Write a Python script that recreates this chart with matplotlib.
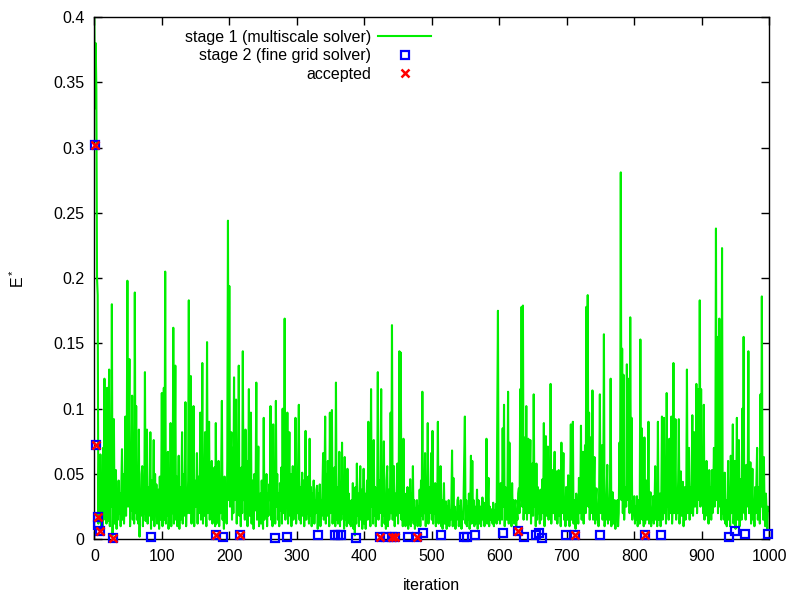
import numpy as np
import matplotlib
matplotlib.use("Agg")
import matplotlib.pyplot as plt

plt.rcParams['font.family'] = ['Liberation Sans', 'DejaVu Sans']
plt.rcParams['mathtext.fontset'] = 'custom'
plt.rcParams['mathtext.rm'] = 'Liberation Sans'
plt.rcParams['mathtext.it'] = 'Liberation Sans'

# stage 1 error values (in thousandths), one per iteration 0..999
stage1_milli = [
    400, 330, 380, 345, 200, 187, 12, 60, 18, 65, 10, 45, 8, 70, 15, 123, 20, 55, 12, 116,
    14, 85, 130, 10, 60, 25, 180, 3, 40, 92, 12, 48, 53, 8, 38, 15, 45, 20, 35, 10,
    42, 69, 15, 50, 12, 35, 94, 18, 60, 198, 25, 70, 138, 10, 45, 22, 110, 15, 40, 12,
    189, 20, 102, 15, 40, 12, 84, 2, 35, 18, 50, 56, 10, 38, 20, 128, 14, 45, 84, 12,
    40, 18, 30, 82, 8, 45, 15, 35, 76, 10, 50, 20, 42, 12, 30, 38, 8, 48, 15, 30,
    112, 10, 40, 116, 15, 205, 12, 50, 18, 67, 8, 35, 14, 89, 10, 45, 20, 162, 12, 55,
    133, 15, 48, 10, 30, 64, 8, 40, 15, 35, 82, 12, 50, 18, 40, 105, 10, 38, 20, 45,
    183, 20, 50, 125, 12, 40, 18, 102, 10, 45, 25, 35, 66, 12, 48, 20, 30, 97, 15, 42,
    135, 12, 40, 18, 82, 25, 10, 151, 20, 50, 90, 15, 45, 22, 60, 12, 38, 20, 55, 10,
    89, 12, 45, 18, 60, 10, 40, 20, 55, 106, 15, 30, 8, 48, 22, 40, 12, 60, 244, 30,
    194, 25, 60, 82, 15, 70, 20, 124, 30, 50, 107, 12, 65, 25, 133, 18, 45, 10, 55, 20,
    144, 30, 55, 15, 84, 20, 60, 10, 40, 115, 18, 50, 97, 12, 45, 35, 8, 50, 22, 40,
    120, 15, 40, 71, 10, 30, 35, 12, 45, 20, 8, 93, 15, 38, 22, 50, 10, 35, 18, 42,
    30, 102, 15, 40, 10, 88, 20, 45, 12, 106, 25, 50, 15, 35, 10, 43, 22, 55, 12, 100,
    20, 60, 169, 15, 45, 25, 97, 12, 40, 82, 18, 50, 10, 35, 56, 15, 40, 22, 93, 12,
    45, 20, 60, 103, 15, 40, 12, 35, 51, 18, 45, 10, 38, 83, 15, 30, 20, 48, 12, 77,
    18, 40, 10, 35, 15, 45, 12, 30, 20, 38, 41, 8, 35, 15, 42, 10, 30, 18, 40, 66,
    15, 40, 94, 12, 50, 18, 60, 35, 10, 97, 20, 45, 99, 12, 40, 18, 55, 10, 120, 15,
    40, 12, 30, 67, 10, 35, 15, 74, 20, 40, 8, 63, 15, 30, 10, 54, 18, 35, 12, 28,
    10, 30, 15, 43, 8, 25, 3, 40, 12, 58, 18, 35, 10, 30, 56, 15, 38, 8, 25, 54,
    12, 35, 8, 30, 45, 15, 90, 20, 40, 10, 115, 25, 50, 12, 76, 18, 40, 10, 35, 20,
    128, 15, 45, 20, 35, 115, 10, 40, 18, 75, 12, 30, 8, 45, 56, 10, 38, 15, 25, 97,
    20, 164, 15, 40, 56, 10, 35, 18, 30, 58, 12, 45, 144, 20, 143, 15, 40, 10, 77, 18,
    35, 10, 30, 15, 40, 8, 25, 12, 46, 10, 35, 15, 56, 12, 30, 8, 24, 15, 30, 10,
    25, 12, 38, 10, 45, 18, 113, 15, 40, 20, 66, 10, 35, 15, 89, 12, 40, 20, 30, 66,
    15, 83, 12, 35, 20, 43, 10, 30, 18, 90, 12, 40, 15, 56, 10, 30, 8, 25, 43, 12,
    20, 29, 8, 25, 12, 30, 10, 22, 15, 28, 68, 10, 47, 12, 25, 8, 20, 15, 30, 32,
    10, 25, 12, 30, 8, 20, 15, 28, 62, 94, 12, 30, 10, 25, 15, 35, 8, 22, 64, 12,
    60, 15, 30, 10, 25, 12, 20, 38, 8, 30, 29, 12, 25, 10, 20, 32, 15, 28, 10, 25,
    15, 77, 12, 30, 47, 10, 25, 15, 20, 23, 12, 28, 10, 22, 15, 27, 12, 96, 175, 15,
    30, 12, 43, 20, 15, 85, 25, 103, 10, 40, 38, 15, 30, 113, 12, 74, 20, 35, 10, 43,
    15, 30, 12, 25, 30, 10, 20, 15, 35, 39, 20, 115, 30, 178, 25, 179, 15, 40, 78, 20,
    102, 15, 45, 77, 20, 50, 76, 12, 40, 58, 18, 111, 25, 45, 10, 58, 15, 40, 20, 35,
    12, 38, 15, 30, 46, 20, 89, 10, 35, 79, 18, 40, 71, 15, 30, 20, 119, 12, 40, 53,
    20, 45, 67, 15, 35, 52, 12, 30, 53, 18, 40, 10, 74, 20, 35, 66, 15, 30, 10, 40,
    25, 15, 49, 20, 10, 35, 88, 15, 40, 90, 12, 30, 22, 8, 35, 15, 25, 12, 47, 20,
    30, 87, 15, 40, 67, 12, 35, 72, 20, 178, 40, 187, 25, 97, 15, 78, 20, 30, 114, 15,
    40, 63, 12, 30, 39, 15, 25, 10, 40, 111, 20, 35, 72, 15, 30, 157, 10, 22, 15, 35,
    57, 12, 30, 15, 40, 123, 10, 25, 36, 12, 20, 30, 8, 25, 15, 30, 10, 20, 74, 40,
    281, 30, 146, 20, 126, 15, 40, 39, 25, 134, 30, 50, 123, 20, 170, 35, 93, 15, 30, 20,
    33, 12, 25, 15, 33, 10, 20, 30, 12, 153, 20, 85, 15, 30, 10, 78, 12, 25, 45, 15,
    30, 90, 12, 25, 36, 10, 20, 15, 33, 12, 25, 56, 15, 30, 10, 90, 15, 25, 35, 10,
    30, 94, 15, 40, 93, 20, 35, 12, 112, 25, 40, 15, 77, 20, 45, 94, 12, 30, 135, 20,
    40, 92, 15, 35, 20, 45, 92, 12, 30, 52, 18, 35, 44, 10, 25, 40, 15, 30, 130, 20,
    35, 70, 15, 40, 20, 45, 95, 18, 35, 82, 25, 40, 119, 20, 50, 115, 30, 183, 25, 115,
    30, 50, 20, 103, 15, 40, 25, 60, 18, 35, 12, 53, 20, 40, 15, 53, 20, 35, 70, 25,
    40, 238, 30, 155, 20, 50, 169, 25, 123, 15, 223, 20, 40, 15, 51, 12, 30, 10, 25, 60,
    15, 35, 10, 64, 20, 40, 88, 12, 30, 60, 8, 35, 93, 15, 25, 76, 10, 30, 46, 15,
    100, 25, 155, 20, 40, 15, 57, 25, 35, 144, 20, 30, 59, 12, 25, 54, 15, 30, 10, 40,
    20, 45, 70, 15, 30, 40, 12, 111, 25, 186, 30, 15, 63, 20, 10, 35, 22, 8, 25, 22,
]

# stage 2 (fine grid solver) evaluations
stage2_iter = [1, 3, 5, 6, 8, 27, 84, 181, 190, 216, 267, 286, 332, 357, 361, 365, 388,
               423, 432, 441, 446, 465, 478, 487, 514, 547, 552, 564, 606, 627, 636,
               654, 659, 664, 699, 712, 749, 816, 840, 941, 949, 964, 998]
stage2_val = [0.302, 0.072, 0.017, 0.011, 0.006, 0.001, 0.002, 0.003, 0.002, 0.003, 0.001,
              0.002, 0.003, 0.003, 0.003, 0.003, 0.001, 0.002, 0.002, 0.002, 0.002, 0.002,
              0.002, 0.005, 0.003, 0.002, 0.002, 0.003, 0.005, 0.006, 0.002, 0.003, 0.005,
              0.001, 0.003, 0.003, 0.003, 0.003, 0.003, 0.002, 0.006, 0.004, 0.004]

# accepted proposals
acc_iter = [1, 3, 5, 8, 27, 181, 216, 423, 441, 446, 478, 627, 712, 816]
acc_val = [0.302, 0.072, 0.017, 0.006, 0.001, 0.003, 0.003, 0.002, 0.002, 0.002, 0.002,
           0.006, 0.003, 0.003]

iterations = np.arange(len(stage1_milli))
stage1_val = np.array(stage1_milli) / 1000.0

fs = 11.5

fig = plt.figure(figsize=(8, 6), dpi=100)
ax = fig.add_axes([0.1179, 0.1012, 0.8437, 0.8705])

ax.plot(iterations, stage1_val, color='#00ee00', lw=1.5, label='stage 1 (multiscale solver)', zorder=2)
ax.plot(stage2_iter, stage2_val, linestyle='none', marker='s', markersize=5.3,
        markerfacecolor='none', markeredgecolor='#0000ff', markeredgewidth=1.6,
        label='stage 2 (fine grid solver)', zorder=3, clip_on=False)
ax.plot(acc_iter, acc_val, linestyle='none', marker='x', markersize=5.3,
        color='#ff0000', markeredgewidth=1.8, label='accepted', zorder=4, clip_on=False)

ax.set_xlim(0, 1000)
ax.set_ylim(0, 0.4)
ax.set_xticks(np.arange(0, 1001, 100))
yt = np.arange(0, 0.401, 0.05)
ax.set_yticks(yt)
ax.set_yticklabels(['0', '0.05', '0.1', '0.15', '0.2', '0.25', '0.3', '0.35', '0.4'])
ax.tick_params(direction='in', top=True, right=True, length=6, width=1,
               labelsize=fs, pad=7, colors='black')
for s in ax.spines.values():
    s.set_linewidth(1)

ax.set_xlabel('iteration', fontsize=fs, labelpad=10)
ax.set_ylabel(r'$\mathregular{E^*}$', fontsize=fs, labelpad=19)

leg = ax.legend(loc='upper right', bbox_to_anchor=(0.518, 1.0), frameon=False,
                markerfirst=False, fontsize=fs, handlelength=3.3, handletextpad=0.45,
                labelspacing=0.22, borderaxespad=0.4)

fig.savefig('out.png', dpi=100)
